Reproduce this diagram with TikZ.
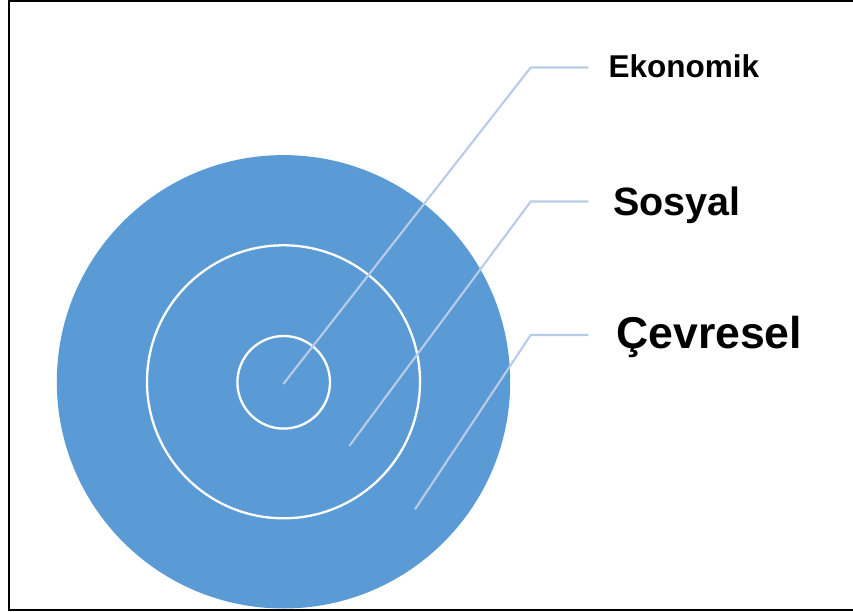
\documentclass[tikz,border=0pt]{standalone}
\usepackage{fontspec}
\setmainfont{Liberation Sans}
\definecolor{ringblue}{RGB}{91,155,213}
\definecolor{leaderblue}{RGB}{184,203,233}
\begin{document}
\begin{tikzpicture}[x=1pt,y=-1pt,
  ring/.style={circle, inner sep=0pt, outer sep=0pt},
  divider/.style={ring, draw=white, line width=2.3pt},
  leader/.style={draw=leaderblue, line width=2.1pt, line join=round},
  label/.style={anchor=base west, inner sep=0pt, font=\bfseries}]
\useasboundingbox (0,0) rectangle (853,612);

% frame
\draw[line width=2pt] (856,1.5) -- (9,1.5) -- (9,610) -- (856,610);

% concentric circles
\node[ring, fill=ringblue, minimum size=453.4pt] (outer) at (283.5,381.8) {};
\node[divider, minimum size=273pt] (middle) at (283.5,381.8) {};
\node[divider, minimum size=92.6pt] (inner) at (283.7,382.3) {};

% leader line anchors
\coordinate (eA) at (283.3,384);
\coordinate (eB) at (530.7,67.5);
\coordinate (eC) at (588.3,67.5);
\coordinate (sA) at (349.3,446);
\coordinate (sB) at (530.7,201.5);
\coordinate (sC) at (588.3,201.5);
\coordinate (cA) at (415,509.3);
\coordinate (cB) at (530.7,335);
\coordinate (cC) at (588.3,335);

\draw[leader] (eA) -- (eB) -- (eC);
\draw[leader] (sA) -- (sB) -- (sC);
\draw[leader] (cA) -- (cB) -- (cC);

% labels
\node[label] (ekon) at (608.3,77.3) {\fontsize{31.5}{36}\selectfont Ekonomik};
\node[label] (sos) at (613,215) {\fontsize{39.5}{44}\selectfont Sosyal};
\node[label] (cev) at (616,348.3) {\fontsize{44.6}{50}\selectfont Çevresel};
\end{tikzpicture}
\end{document}
